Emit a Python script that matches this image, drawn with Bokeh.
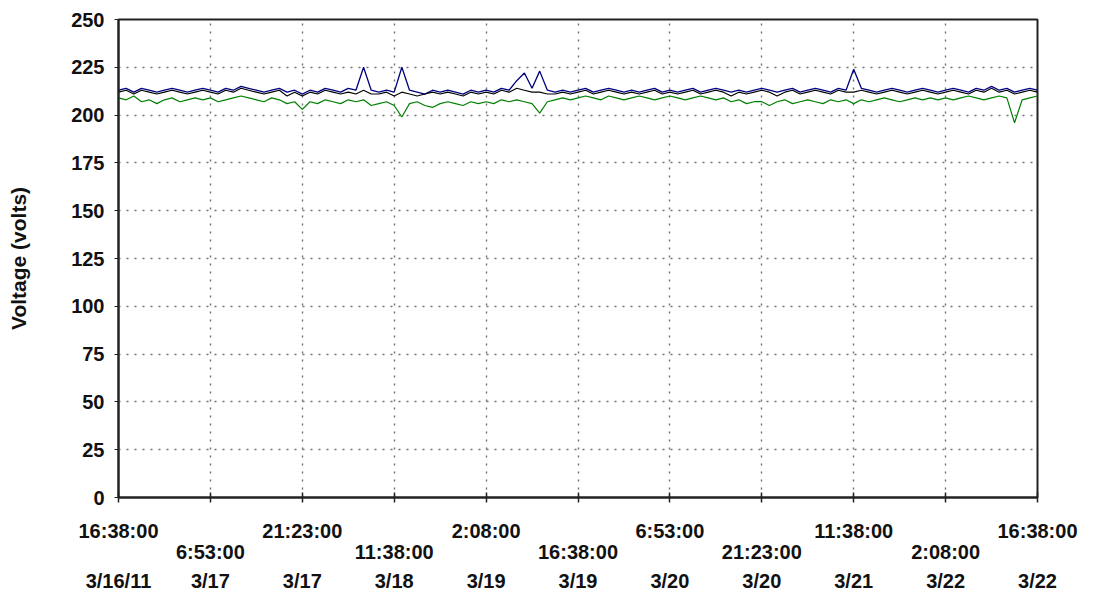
from bokeh.plotting import figure
from bokeh.models import FixedTicker, LinearAxis, Range1d
from bokeh.embed import file_html
from bokeh.resources import INLINE

# tick positions (equal spaced sample-axis categories)
tick_pos = list(range(11))
time_labels = ["16:38:00", "6:53:00", "21:23:00", "11:38:00", "2:08:00", "16:38:00",
               "6:53:00", "21:23:00", "11:38:00", "2:08:00", "16:38:00"]
date_labels = ["3/16/11", "3/17", "3/17", "3/18", "3/19", "3/19",
               "3/20", "3/20", "3/21", "3/22", "3/22"]
y_ticks = [0, 25, 50, 75, 100, 125, 150, 175, 200, 225, 250]

# readings (volts), one every 1/12 of a tick interval
blue = [213,214,212,214,213,212,213,214,213,212,213,214,
        213,212,214,213,215,214,213,212,213,214,212,213,
        211,213,212,214,213,212,214,213,225,213,212,213,
        212,225,213,212,211,213,212,213,212,211,213,212,
        213,212,214,213,218,222,214,223,213,212,213,212,
        213,214,212,213,214,213,212,213,212,213,214,212,
        213,212,213,214,212,213,214,213,212,213,212,213,
        214,213,212,213,214,212,213,214,213,212,214,213,
        224,214,213,212,213,214,213,212,213,214,213,212,
        213,214,213,212,214,213,215,213,214,212,213,214,213]
black = [212,213,211,213,212,211,212,213,212,211,212,213,
         212,211,213,212,214,213,212,211,212,213,210,212,
         210,212,211,213,212,211,212,211,213,211,211,212,
         210,212,211,210,211,212,211,212,211,210,212,211,
         212,211,213,212,214,213,212,212,211,211,212,211,
         212,213,211,212,213,212,211,212,211,212,213,211,
         212,211,212,213,211,212,213,212,210,212,211,212,
         213,212,210,212,213,211,212,213,212,211,213,212,
         212,213,212,211,212,213,212,211,212,213,212,211,
         212,213,212,211,213,212,214,212,213,211,212,213,212]
green = [209,208,210,207,208,206,208,209,207,208,209,208,
         209,207,208,209,210,209,208,207,209,208,206,207,
         203,207,206,208,207,206,208,207,208,205,206,207,
         205,199,206,207,205,204,206,207,206,205,207,206,
         207,206,208,207,208,207,206,201,207,208,209,208,
         209,210,209,208,210,209,208,209,210,209,208,209,
         210,209,208,209,210,209,208,209,207,208,206,207,
         207,205,207,208,206,207,208,207,206,208,207,208,
         206,208,207,208,209,208,207,208,209,208,209,208,
         209,208,209,210,209,208,209,210,209,196,208,209,210]
xs = [i / 12 for i in range(len(blue))]

FONT = "Liberation Sans"
LBL = "20px"

p = figure(frame_width=919, frame_height=478,
           x_range=Range1d(0, 10), y_range=Range1d(0, 250),
           output_backend="svg", toolbar_location=None,
           min_border_left=118, min_border_top=19, min_border_right=45,
           min_border_bottom=0, background_fill_color="white",
           border_fill_color="white")
p.outline_line_color = "#222222"
p.outline_line_width = 2

p.line(xs, green, line_color="#008000", line_width=1.2)
p.line(xs, blue, line_color="#000080", line_width=1.3)
p.line(xs, black, line_color="#000000", line_width=1.1)

# grids
p.xgrid.ticker = FixedTicker(ticks=tick_pos[1:-1])
p.ygrid.ticker = FixedTicker(ticks=y_ticks[1:-1])
for g in (p.xgrid, p.ygrid):
    g.grid_line_color = "#707070"
    g.grid_line_dash = "2 6"
    g.grid_line_width = 1.4

# y axis
ya = p.yaxis[0]
ya.ticker = FixedTicker(ticks=y_ticks)
ya.axis_label = "Voltage (volts)"
ya.axis_label_text_font = FONT
ya.axis_label_text_font_style = "bold"
ya.axis_label_text_font_size = "21px"
ya.axis_label_text_color = "#111111"
ya.axis_label_standoff = 38
ya.major_label_text_font = FONT
ya.major_label_text_font_style = "bold"
ya.major_label_text_font_size = LBL
ya.major_label_text_color = "#111111"
ya.major_label_standoff = 10
ya.major_tick_in = 0
ya.major_tick_out = 4
ya.minor_tick_line_color = None
ya.axis_line_color = "#222222"
ya.axis_line_width = 2
ya.major_tick_line_color = "#222222"

# x axis row 1 (even ticks)
xa = p.xaxis[0]
xa.ticker = FixedTicker(ticks=tick_pos)
xa.major_label_overrides = {t: (time_labels[t] if t % 2 == 0 else "") for t in tick_pos}
xa.major_tick_in = 5
xa.major_tick_out = 5
xa.major_label_standoff = 17
xa.minor_tick_line_color = None
xa.axis_line_color = "#222222"
xa.axis_line_width = 2
xa.major_tick_line_color = "#222222"
xa.major_tick_line_width = 1.5

# x axis row 2 (odd ticks)
xb = LinearAxis(ticker=FixedTicker(ticks=tick_pos[1::2]))
xb.major_label_overrides = {t: time_labels[t] for t in tick_pos[1::2]}
xb.major_label_standoff = -4

# x axis row 3 (dates)
xc = LinearAxis(ticker=FixedTicker(ticks=tick_pos))
xc.major_label_overrides = {t: date_labels[t] for t in tick_pos}
xc.major_label_standoff = 4

for ax in (xb, xc):
    ax.axis_line_color = None
    ax.major_tick_line_color = None
    ax.minor_tick_line_color = None
    ax.major_tick_in = 0
    ax.major_tick_out = 0
    p.add_layout(ax, "below")

for ax in (xa, xb, xc):
    ax.major_label_text_font = FONT
    ax.major_label_text_font_style = "bold"
    ax.major_label_text_font_size = LBL
    ax.major_label_text_color = "#111111"

open("out.html", "w").write(file_html(p, INLINE))
